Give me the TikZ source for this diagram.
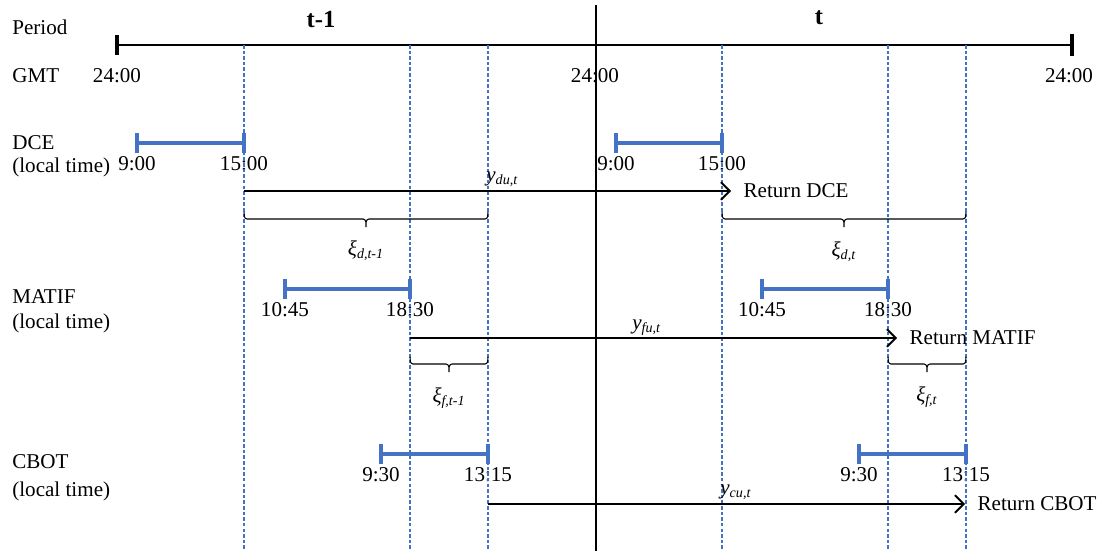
\documentclass[tikz,border=0pt]{standalone}
\usepackage{fontspec}
\setmainfont{Liberation Serif}
\usetikzlibrary{arrows.meta}

\begin{document}
\begin{tikzpicture}[x=0.02cm,y=-0.02cm,font=\fontsize{12}{14}\selectfont,
    lbl/.style={anchor=west,inner sep=0pt},
    tm/.style={inner sep=0pt},
    hdr/.style={font=\fontsize{14}{16}\selectfont\bfseries},
    bar/.style={cB,line width=1.8pt},
    gridline/.style={cB,line width=0.6pt,dash pattern=on 2pt off 1.2pt},
    ret/.style={line width=1.1pt,-{Straight Barb[length=5pt,width=10pt]}},
    brc/.style={line width=0.6pt}]
\definecolor{cB}{RGB}{68,114,196}
\useasboundingbox (0,0) rectangle (1101,551);

\node[lbl] (period) at (12,27) {Period};
\node[lbl] (gmt) at (12,76) {GMT};
\foreach \n/\y/\yl/\name in {dce/143/167/DCE, matif/297/323/MATIF, cbot/462/491/CBOT}{
    \node[lbl] (\n) at (12,\y) {\name};
    \node[lbl] (\n loc) at (12,\yl) {(local time)};
}

\node[hdr] (tprev) at (321,20) {t-1};
\node[hdr] (tcur) at (819,18) {t};

\coordinate (a0) at (117,45);
\coordinate (a1) at (1072,45);
\draw[line width=1.6pt] (a0) -- (a1);
\draw[line width=1.8pt] (117,35) -- (117,55);
\draw[line width=1.8pt] (1072,34) -- (1072,56);
\foreach \n/\x in {g0/117, g1/595, g2/1069}{
    \node[tm] (\n) at (\x,76) {24:00};
}

\foreach \n/\xa/\xb/\y/\la/\lb in {
    dceA/137/244/143/{9:00}/{15:00},
    dceB/616/722/143/{9:00}/{15:00},
    matA/285/410/289/{10:45}/{18:30},
    matB/762/888/289/{10:45}/{18:30},
    cbtA/381/488/454/{9:30}/{13:15},
    cbtB/859/966/454/{9:30}/{13:15}
}{
    \draw[bar] (\xa,\y) -- (\xb,\y);
    \draw[bar] (\xa,\y-10) -- (\xa,\y+10);
    \draw[bar] (\xb,\y-10) -- (\xb,\y+10);
    \node[tm] (\n o) at (\xa,\y+21) {\la};
    \node[tm] (\n c) at (\xb,\y+21) {\lb};
}

\foreach \x in {244,410,488,722,888,966}{
    \draw[gridline] (\x,45) -- (\x,551);
}
\draw[line width=1.4pt] (596,5) -- (596,551);

\foreach \n/\xa/\xb/\y/\sub/\mkt/\lx/\ly in {
    du/244/731/191/{du,t}/DCE/486/179,
    fu/410/897/338/{fu,t}/MATIF/632/328,
    cu/488/965/504/{cu,t}/CBOT/720/492
}{
    \coordinate (\n) at (\xa,\y);
    \node[anchor=west,inner ysep=2pt,inner xsep=7pt] (r\n) at (\xb,\y) {Return \mkt};
    \draw[ret] (\n) -- (r\n.west);
    \node[lbl] (l\n) at (\lx,\ly) {\textit{y}\textsubscript{\textit{\sub}}};
}

\foreach \n/\xa/\xb/\y/\sub/\ly in {
    bd0/244/488/212/{d,t-1}/251,
    bd1/722/966/212/{d,t}/252,
    bf0/410/488/357/{f,t-1}/398,
    bf1/888/966/357/{f,t}/397
}{
    \pgfmathsetmacro{\xm}{(\xa+\xb)/2}
    \coordinate (\n a) at (\xa,\y);
    \coordinate (\n b) at (\xb,\y);
    \coordinate (\n m) at (\xm,\y+15);
    \draw[brc] (\n a) to[out=-90,in=180] ++(3,7) -- (\xm-3,\y+7)
        to[out=0,in=90] (\n m) to[out=90,in=180] (\xm+3,\y+7)
        -- (\xb-3,\y+7) to[out=0,in=-90] (\n b);
    \node[tm] (\n l) at (\xm,\ly) {\textit{ξ}\textsubscript{\textit{\sub}}};
}
\end{tikzpicture}
\end{document}
